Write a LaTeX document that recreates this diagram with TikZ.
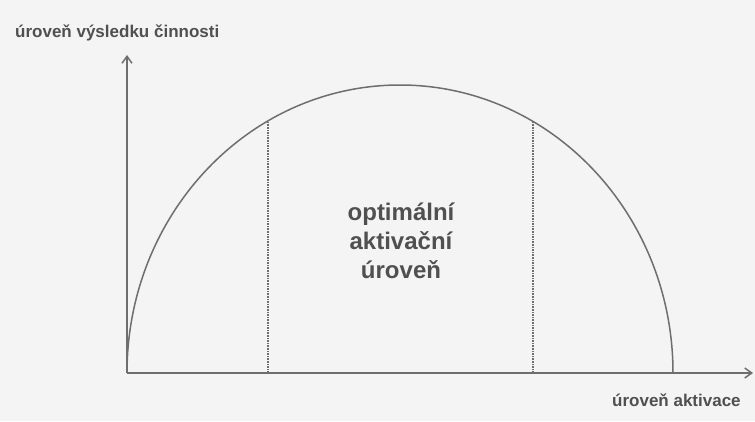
\documentclass[tikz,border=0pt]{standalone}
\usepackage{fontspec}
\setmainfont{Liberation Sans}
\usetikzlibrary{arrows.meta}
\definecolor{inkgray}{RGB}{80,80,80}
\definecolor{linegray}{RGB}{110,110,110}
\definecolor{paper}{RGB}{244,244,244}

\begin{document}
\begin{tikzpicture}[x=1pt, y=-1pt,
  axisline/.style={draw=linegray, line width=1.5pt, -{Straight Barb[length=7pt,width=10pt]}},
  bellcurve/.style={draw=linegray, line width=1.5pt},
  dropline/.style={draw=linegray, line width=1.6pt, densely dotted},
  axistext/.style={text=inkgray, inner sep=0pt}]
\fill[paper] (0,0) rectangle (755,421);
% axes
\coordinate (origin) at (127,373);
\coordinate (ytip) at (127,55);
\coordinate (xtip) at (753,373);
\draw[axisline] (origin) -- (ytip);
\draw[axisline] (origin) -- (xtip);
% activation curve
\draw[bellcurve] (origin) arc[start angle=180, end angle=360, x radius=273, y radius=288];
% bounds of the optimal zone
\coordinate (leftfoot) at (268,373);
\coordinate (lefttop) at (268,121);
\coordinate (rightfoot) at (533,373);
\coordinate (righttop) at (533,121);
\draw[dropline] (leftfoot) -- (lefttop);
\draw[dropline] (rightfoot) -- (righttop);
% texts
\node[axistext, anchor=west, font=\bfseries\fontsize{17}{20}\selectfont] (ylabel) at (15,33) {úroveň výsledku činnosti};
\node[axistext, anchor=west, font=\bfseries\fontsize{17}{20}\selectfont] (xlabel) at (612,400) {úroveň aktivace};
\node[axistext, align=center, font=\bfseries\fontsize{24}{29}\selectfont] (optimum) at (401,241) {optimální\\aktivační\\úroveň};
\end{tikzpicture}
\end{document}
